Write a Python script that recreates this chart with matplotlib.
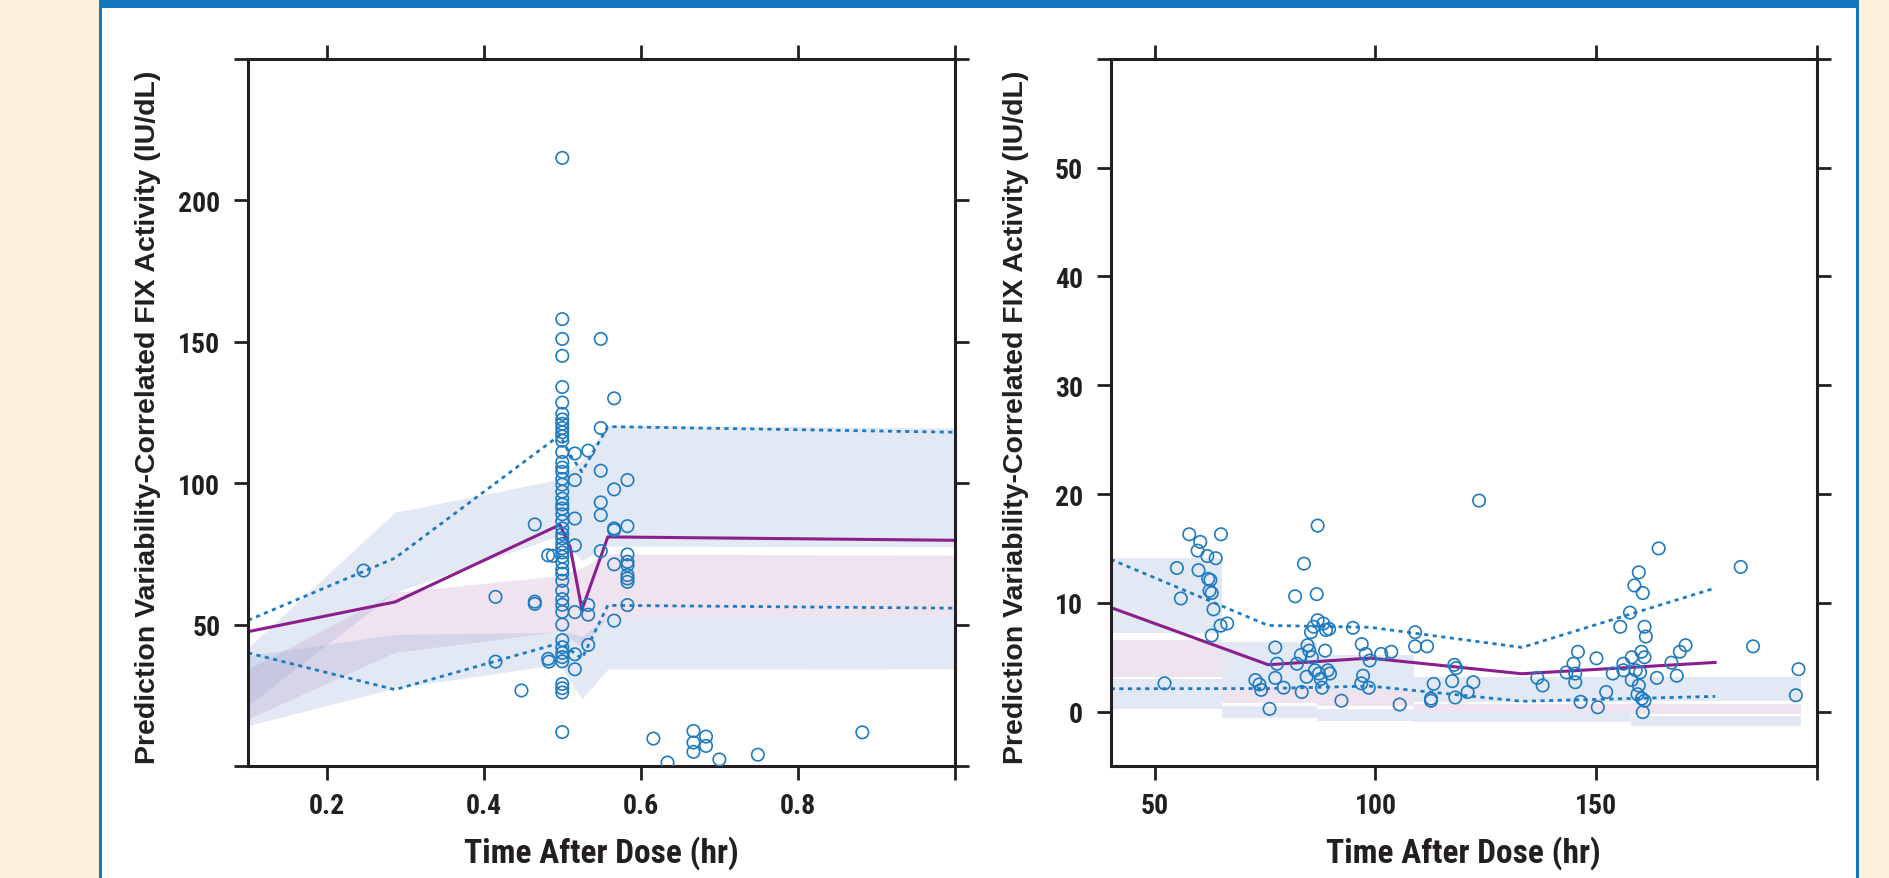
import matplotlib
matplotlib.use("Agg")
import matplotlib.pyplot as plt
from matplotlib import font_manager
from matplotlib.patches import Rectangle

# ---- left panel (0 - 1 hr) ----
left_bins = [0.1, 0.287, 0.497, 0.51, 0.525, 0.558, 1.0]
left_median = [47.5, 58.0, 85.3, 77.4, 55.3, 81.0, 79.8]
left_p95 = [51.5, 73.5, 117.0, 110.0, 104.0, 120.0, 118.0]
left_p5 = [40.0, 27.0, 43.5, 41.0, 38.0, 56.8, 55.8]
left_hi_band_lo = [21.4, 61.4, 81.5, 77.0, 72.6, 77.7, 77.5]
left_hi_band_hi = [41.9, 89.7, 101.4, 105.0, 108.0, 120.5, 119.5]
left_mid_band_lo = [16.6, 40.2, 47.5, 45.0, 42.0, 53.0, 53.0]
left_mid_band_hi = [34.3, 61.4, 67.3, 69.0, 70.0, 75.0, 74.5]
left_lo_band_lo = [14.3, 27.5, 36.0, 30.0, 23.7, 34.2, 34.3]
left_lo_band_hi = [39.0, 46.5, 47.3, 47.0, 46.0, 53.0, 53.0]

# observations sampled at 0.5 hr
left_col_y = [215, 158, 151, 145, 134, 128.5, 124.5, 122.5, 121, 119.5, 118, 116.5,
              115, 111, 107.5, 105.5, 104, 101.5, 99.5, 97, 94.5, 92.5, 91, 89,
              86.5, 84, 82, 80.5, 78.5, 77, 75.5, 74, 72, 69.5, 68, 65.5, 62, 59,
              57, 54.5, 50, 44.5, 42, 40, 38.5, 37, 29, 27.5, 26, 12]
left_x = [0.247, 0.415, 0.415, 0.448, 0.465, 0.465, 0.465, 0.482, 0.488, 0.482, 0.483,
          0.516, 0.516, 0.516, 0.516, 0.516, 0.516, 0.516,
          0.533, 0.533, 0.533, 0.533,
          0.549, 0.549, 0.549, 0.549, 0.549, 0.549,
          0.566, 0.566, 0.566, 0.566, 0.566, 0.566,
          0.583, 0.583, 0.583, 0.583, 0.583, 0.583, 0.583, 0.583, 0.583,
          0.616, 0.634, 0.667, 0.667, 0.667, 0.683, 0.683, 0.700, 0.749, 0.882]
left_y = [69.1, 59.8, 36.9, 26.7, 85.4, 58.1, 57.3, 74.5, 74.3, 37.9, 36.9,
          110.5, 101.1, 87.5, 78.0, 54.4, 39.5, 34.2,
          111.5, 56.9, 53.5, 42.8,
          151.0, 119.5, 104.4, 93.2, 88.7, 76.0,
          130.0, 97.8, 84.0, 83.4, 71.3, 51.4,
          101.1, 84.8, 74.8, 72.2, 71.0, 67.5, 66.3, 65.1, 56.9,
          9.7, 1.2, 12.4, 8.3, 5.0, 10.4, 7.1, 2.3, 4.0, 11.9]

# ---- right panel (later times) ----
right_bins = [40, 75.7, 98.8, 133.2, 177]
right_median = [9.57, 4.31, 4.92, 3.48, 4.52]
right_p95 = [14.0, 7.92, 7.75, 5.9, 11.35]
right_p5 = [2.1, 2.12, 2.35, 0.95, 1.4]
right_edges = [40, 65.2, 86.7, 108.7, 157.9, 196.5]
right_hi_band = [(7.2, 14.1), (2.2, 6.4), (1.9, 5.2), (0.85, 3.2), (1.0, 3.2)]
right_mid_band = [(3.15, 6.6), (0.8, 2.2), (0.5, 1.86), (-0.07, 0.7), (-0.2, 0.7)]
right_lo_band = [(0.27, 3.0), (-0.6, 0.55), (-0.83, 0.2), (-0.95, -0.07), (-1.3, -0.4)]

right_x = [52.2, 55.0, 55.9, 57.8, 59.9, 59.7, 60.3, 61.9, 62.1, 62.6, 62.4, 62.9, 63.8,
           63.3, 62.9, 65.0, 64.9, 66.4, 72.8, 73.7, 74.1, 76.0, 77.3, 77.7, 77.3, 79.2,
           81.8, 82.2, 83.1, 83.3, 83.8, 84.4, 84.6, 85.0, 85.4, 85.6, 86.0, 86.3, 86.7,
           86.9, 86.9, 87.2, 87.6, 87.9, 88.2, 88.6, 88.8, 89.2, 89.7, 89.5, 92.3, 94.9,
           96.9, 97.8, 97.2, 96.8, 98.5, 98.7, 101.3, 103.6, 105.5, 109.0, 109.0, 111.7,
           112.6, 112.6, 113.2, 117.4, 117.9, 118.3, 118.1, 120.9, 122.2, 123.5, 136.7,
           137.9, 143.3, 144.9, 145.3, 145.3, 145.9, 146.5, 150.1, 150.4, 152.3, 153.8,
           155.5, 156.2, 156.2, 157.7, 158.1, 158.1, 158.7, 159.0, 159.7, 159.4, 159.7,
           160.3, 160.6, 161.0, 160.4, 160.6, 161.0, 161.3, 160.0, 161.0, 163.8, 164.2,
           167.1, 168.3, 169.0, 170.3, 182.8, 185.6, 195.3, 195.9]
right_y = [2.6, 13.2, 10.4, 16.3, 13.0, 14.8, 15.6, 14.3, 12.2, 12.1, 11.1, 10.9, 14.1,
           9.4, 7.0, 16.3, 7.9, 8.1, 2.9, 2.5, 2.0, 0.25, 5.9, 4.4, 3.1, 2.2,
           10.6, 4.4, 5.2, 1.8, 13.6, 3.2, 6.1, 5.6, 7.3, 5.0, 7.8, 3.8, 10.8,
           17.1, 8.4, 3.5, 3.0, 2.2, 8.1, 5.6, 7.5, 3.8, 3.5, 7.6, 1.0, 7.7,
           6.2, 5.3, 3.3, 2.6, 2.2, 4.7, 5.3, 5.5, 0.65, 7.3, 6.0, 6.0,
           1.2, 1.0, 2.55, 2.8, 4.3, 4.0, 1.3, 1.8, 2.7, 19.4, 3.1,
           2.4, 3.6, 4.4, 3.5, 2.7, 5.5, 0.9, 4.9, 0.4, 1.8, 3.5,
           7.8, 4.4, 3.8, 9.1, 5.0, 2.9, 11.6, 3.8, 2.4, 1.6, 12.8,
           5.5, 10.9, 5.0, 1.2, -0.05, 7.8, 6.9, 3.6, 1.0, 3.1, 15.0,
           4.5, 3.3, 5.5, 6.1, 13.3, 6.0, 1.5, 3.9]

ylabel = "Prediction Variability-Correlated FIX Activity (IU/dL)"
xlabel = "Time After Dose (hr)"

dot_blue = "#1f7bc1"
purple = "#8b1e8c"
band_blue = (0.56, 0.672, 0.844, 0.25)
band_pink = (0.748, 0.576, 0.764, 0.25)
frame_blue = "#1478be"
beige = "#fdf0db"
ink = "#231f20"


def pick_font(candidates):
    # first family that is installed with a bold face
    have = {}
    for f in font_manager.fontManager.ttflist:
        w = f.weight if isinstance(f.weight, int) else 700 if "bold" in str(f.weight) else 400
        have[f.name] = max(have.get(f.name, 0), w)
    for c in candidates:
        if have.get(c, 0) >= 600:
            return [c, "DejaVu Sans"]
    return ["DejaVu Sans"]


narrow = pick_font(["Liberation Sans Narrow", "Roboto Condensed", "Archivo Narrow",
                    "PT Sans Narrow", "Barlow Condensed", "Saira SemiCondensed"])
wide = pick_font(["Liberation Sans", "Arimo", "Roboto"])

fig = plt.figure(figsize=(18.9, 8.79), dpi=100)
W, H = 1890.0, 879.0

# page frame
fig.add_artist(Rectangle((0, 0), 99 / W, 1, transform=fig.transFigure, fc=beige, ec="none"))
fig.add_artist(Rectangle((1859 / W, 0), 1 - 1859 / W, 1, transform=fig.transFigure, fc=beige, ec="none"))
fig.add_artist(Rectangle((99 / W, 1 - 9 / H), 1760 / W, 9 / H, transform=fig.transFigure, fc=frame_blue, ec="none"))
fig.add_artist(Rectangle((99 / W, 0), 3 / W, 1, transform=fig.transFigure, fc=frame_blue, ec="none"))
fig.add_artist(Rectangle((1856 / W, 0), 3 / W, 1, transform=fig.transFigure, fc=frame_blue, ec="none"))

ax1 = fig.add_axes([248.1 / W, 1 - 767 / H, (955 - 248.1) / W, (767 - 59.9) / H])
ax2 = fig.add_axes([1110.7 / W, 1 - 767 / H, (1816.6 - 1110.7) / W, (767 - 59.9) / H])

# left panel
ax1.fill_between(left_bins, left_hi_band_lo, left_hi_band_hi, color=band_blue, lw=0)
ax1.fill_between(left_bins, left_mid_band_lo, left_mid_band_hi, color=band_pink, lw=0)
ax1.fill_between(left_bins, left_lo_band_lo, left_lo_band_hi, color=band_blue, lw=0)
ax1.plot(left_bins, left_p95, color=dot_blue, lw=2.0, ls=(0, (1.5, 1.6)))
ax1.plot(left_bins, left_p5, color=dot_blue, lw=2.0, ls=(0, (1.5, 1.6)))
ax1.plot(left_bins, left_median, color=purple, lw=2.2)
ax1.scatter([0.5] * len(left_col_y), left_col_y, s=80, facecolors="none",
            edgecolors=dot_blue, linewidths=1.2, zorder=3)
ax1.scatter(left_x, left_y, s=80, facecolors="none", edgecolors=dot_blue,
            linewidths=1.2, zorder=3)
ax1.set_xlim(0.1, 1.0)
ax1.set_ylim(0, 250)
ax1.set_xticks([0.2, 0.4, 0.6, 0.8, 1.0])
ax1.set_xticklabels(["0.2", "0.4", "0.6", "0.8", ""])
ax1.set_yticks([0, 50, 100, 150, 200, 250])
ax1.set_yticklabels(["", "50", "100", "150", "200", ""])

# right panel
for i in range(len(right_hi_band)):
    w = right_edges[i + 1] - right_edges[i]
    for lo, hi, c in [(right_hi_band[i][0], right_hi_band[i][1], band_blue),
                      (right_mid_band[i][0], right_mid_band[i][1], band_pink),
                      (right_lo_band[i][0], right_lo_band[i][1], band_blue)]:
        ax2.bar(right_edges[i], hi - lo, width=w, bottom=lo, align="edge", color=c, lw=0)
ax2.plot(right_bins, right_p95, color=dot_blue, lw=2.0, ls=(0, (1.5, 1.6)))
ax2.plot(right_bins, right_p5, color=dot_blue, lw=2.0, ls=(0, (1.5, 1.6)))
ax2.plot(right_bins, right_median, color=purple, lw=2.2)
ax2.scatter(right_x, right_y, s=80, facecolors="none", edgecolors=dot_blue,
            linewidths=1.2, zorder=3)
ax2.set_xlim(40, 200)
ax2.set_ylim(-5, 60)
ax2.set_xticks([50, 100, 150, 200])
ax2.set_xticklabels(["50", "100", "150", ""])
ax2.set_yticks([0, 10, 20, 30, 40, 50, 60])
ax2.set_yticklabels(["0", "10", "20", "30", "40", "50", ""])

for ax, ylx in [(ax1, -0.1416), (ax2, -0.134)]:
    for sp in ax.spines.values():
        sp.set_linewidth(2.2)
        sp.set_color(ink)
    ax.tick_params(direction="out", length=10, width=2.0, color=ink,
                   top=True, right=True, labeltop=False, labelright=False)
    ax.tick_params(axis="y", pad=10)
    ax.tick_params(axis="x", pad=9)
    for lab in ax.get_xticklabels() + ax.get_yticklabels():
        lab.set_family(narrow)
        lab.set_fontweight("bold")
        lab.set_fontsize(20)
        lab.set_color(ink)
    ax.set_ylabel(ylabel, fontsize=20.5, fontweight="bold", family=wide,
                  color=ink, va="center", ha="center")
    ax.yaxis.set_label_coords(ylx, 0.495)
    ax.set_xlabel(xlabel, fontsize=24, fontweight="bold", family=narrow,
                  color=ink, va="center")
    ax.xaxis.set_label_coords(0.5, -0.122)

fig.savefig("out.png", dpi=100)
